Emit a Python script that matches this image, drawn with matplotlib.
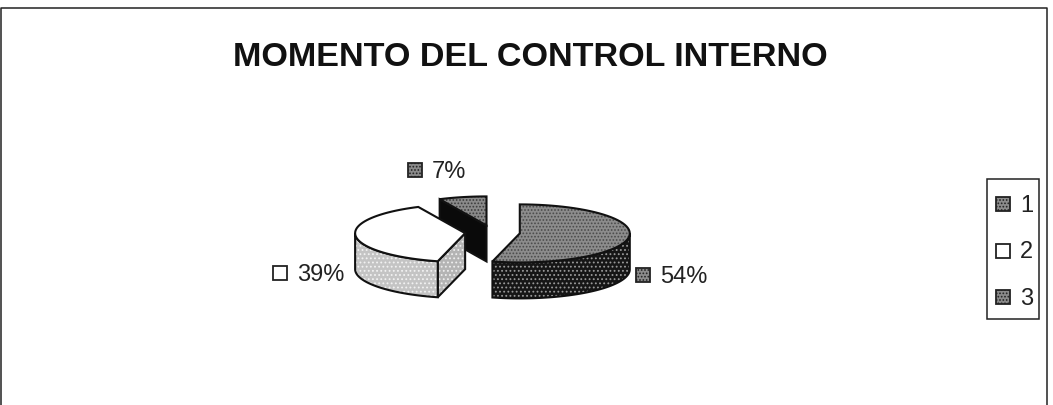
import numpy as np
import matplotlib
matplotlib.use("Agg")
import matplotlib.pyplot as plt
from matplotlib.patches import Polygon, Rectangle

plt.rcParams["font.family"] = ["Liberation Sans", "DejaVu Sans"]
plt.rcParams["hatch.linewidth"] = 0.8

title = "MOMENTO DEL CONTROL INTERNO"
categories = ["1", "2", "3"]
values = [54, 39, 7]
value_labels = ["54%", "39%", "7%"]

# pie geometry in pixels
cx, cy = 492.5, 232.5
rx, ry = 110, 29
depth = 36
explode = 0.25
label_pos = [(636, 275), (273, 273), (408, 170)]

# top, outer wall, cut face
top_style = [("#8c8c8c", "#4a4a4a", "....."), ("#ffffff", None, None), ("#8a8a8a", "#3c3c3c", ".....")]
wall_style = [("#161616", "#9a9a9a", "...."), ("#c4c4c4", "#f2f2f2", "...."), ("#111111", None, None)]
cut_style = [("#111111", None, None), ("#b4b4b4", "#eeeeee", "...."), ("#0a0a0a", None, None)]
swatch_style = [("#8c8c8c", "#222222", "....."), ("#ffffff", None, None), ("#8a8a8a", "#222222", ".....")]


def rim(x0, y0, a0, a1, n=60):
    # angles run clockwise from 12 o'clock
    a = np.radians(np.linspace(a0, a1, n))
    return np.column_stack([x0 + rx * np.sin(a), y0 - ry * np.cos(a)])


def face(ax, pts, style, z):
    fc, hc, hatch = style
    ax.add_patch(Polygon(pts, closed=True, facecolor=fc, edgecolor="none", zorder=z))
    if hatch:
        ax.add_patch(Polygon(pts, closed=True, facecolor="none", edgecolor=hc, hatch=hatch, linewidth=0, zorder=z))
    ax.add_patch(Polygon(pts, closed=True, facecolor="none", edgecolor="#111111", linewidth=1.5, zorder=z))


def draw_slice(ax, a0, a1, style_idx, z):
    mid = np.radians((a0 + a1) / 2)
    x0 = cx + explode * rx * np.sin(mid)
    y0 = cy - explode * ry * np.cos(mid)
    down = np.array([0, depth])
    apex = np.array([[x0, y0]])

    # cut faces that look toward the viewer
    if a0 > 180:
        p = rim(x0, y0, a0, a0, 1)
        face(ax, np.vstack([apex, p, p + down, apex + down]), cut_style[style_idx], z)
    # outer wall only exists on the front half of the ellipse
    w0, w1 = max(a0, 90), min(a1, 270)
    if w1 > w0:
        r = rim(x0, y0, w0, w1)
        face(ax, np.vstack([r, (r + down)[::-1]]), wall_style[style_idx], z)
    face(ax, np.vstack([apex, rim(x0, y0, a0, a1)]), top_style[style_idx], z + 0.5)


fig = plt.figure(figsize=(10.53, 4.05), dpi=100)
ax = fig.add_axes([0, 0, 1, 1])
ax.set_xlim(0, 1053)
ax.set_ylim(405, 0)
ax.axis("off")

# frame is open at the bottom
ax.plot([1, 1, 1047, 1047], [405, 8, 8, 405], color="#222222", lw=1.1)

ax.text(530, 57, title, ha="center", va="center", fontsize=24.6, fontweight="bold", color="#111111")

bounds = np.cumsum([0] + values) * 3.6
draw_order = [2, 1, 0]
for z, i in enumerate(draw_order):
    draw_slice(ax, bounds[i], bounds[i + 1], i, 2 + z)

for i, (x, y) in enumerate(label_pos):
    ax.add_patch(Rectangle((x, y - 7), 14, 14, facecolor=swatch_style[i][0], edgecolor="#222222",
                           hatch=swatch_style[i][2], linewidth=1.3, zorder=6))
    ax.text(x + 24, y + 2, value_labels[i], ha="left", va="center", fontsize=17, color="#222222")

# legend
ax.add_patch(Rectangle((987, 179), 52, 140, facecolor="white", edgecolor="#222222", linewidth=1.1, zorder=5))
for i, cat in enumerate(categories):
    y = 204 + i * 46.5
    ax.add_patch(Rectangle((996, y - 7), 14, 14, facecolor=swatch_style[i][0], edgecolor="#222222",
                           hatch=swatch_style[i][2], linewidth=1.3, zorder=6))
    ax.text(1020, y + 2, cat, ha="left", va="center", fontsize=17, color="#222222", zorder=6)

fig.savefig("out.png", dpi=100)
